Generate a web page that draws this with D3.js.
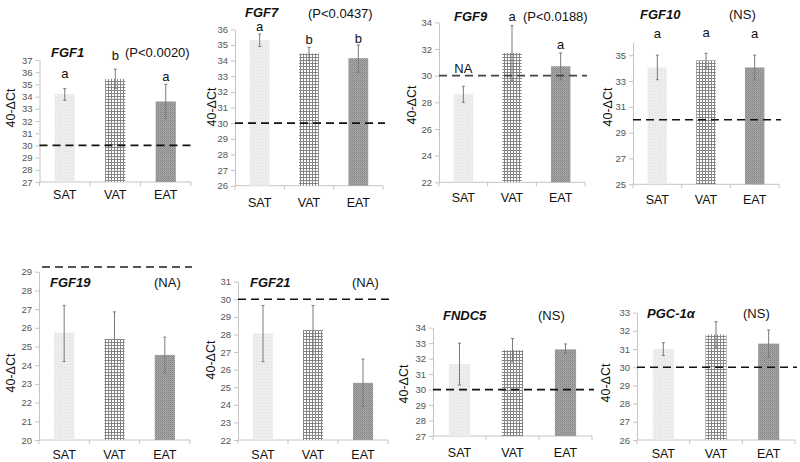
<!DOCTYPE html>
<html><head><meta charset="utf-8">
<script src="https://cdn.jsdelivr.net/npm/d3@7"></script>
<style>body{margin:0;background:#fff}svg{display:block;font-family:"Liberation Sans",Arial,sans-serif}</style>
</head><body><svg id="c" width="800" height="462"></svg>
<script>
// ---------- data ----------
const categories = ["SAT", "VAT", "EAT"];
const genes = ["FGF1", "FGF7", "FGF9", "FGF10", "FGF19", "FGF21", "FNDC5", "PGC-1α"];
const pLabels = ["(P<0.0020)", "(P<0.0437)", "(P<0.0188)", "(NS)", "(NA)", "(NA)", "(NS)", "(NS)"];
const satMeans = [34.2, 35.3, 28.6, 34.05, 25.75, 28.05, 31.65, 31.0];
const vatMeans = [35.45, 34.45, 31.7, 34.6, 25.4, 28.25, 32.55, 31.8];
const eatMeans = [33.6, 34.15, 30.7, 34.05, 24.55, 25.25, 32.6, 31.3];
const satErrLow = [33.7, 34.9, 28.0, 33.1, 24.2, 26.45, 30.3, 30.65];
const satErrHigh = [34.65, 35.7, 29.2, 35.0, 27.2, 29.65, 33.0, 31.35];
const vatErrLow = [34.65, 34.0, 29.65, 34.0, 23.95, 26.85, 31.8, 31.1];
const vatErrHigh = [36.25, 34.85, 33.75, 35.15, 26.85, 29.65, 33.3, 32.5];
const eatErrLow = [32.2, 33.25, 29.7, 33.1, 23.6, 23.9, 32.35, 30.55];
const eatErrHigh = [35.0, 35.0, 31.7, 35.0, 25.5, 26.6, 32.95, 32.05];
const sigLetters = [["a","b","a"], ["a","b","b"], ["","a","a"], ["a","a","a"], ["","",""], ["","",""], ["","",""], ["","",""]];
const yMin = [27, 26, 22, 25, 20, 22, 27, 26];
const yMax = [37, 36, 34, 36, 29, 31, 34, 33];
const yTickStep = [1, 1, 2, 2, 1, 1, 1, 1];
const thresholds = [30, 30, 30, 30, 29.25, 30, 30, 30];
const yAxisTitle = "40-ΔCt";
const naNote = "NA";

// ---------- layout (pixels) ----------
const layout = [
  {x0:39.5, x1:191, yTop:60, yBot:182, lblY:194, yl:[10,108], t:[51,52], p:[125,52], let:[73,55,76], dash:"#111"},
  {x0:235, x1:383, yTop:29.3, yBot:185.7, lblY:202, yl:[211,107], t:[245,12], p:[308,13], let:[26,39,38], dash:"#111"},
  {x0:439, x1:585, yTop:22.3, yBot:182.3, lblY:197, yl:[411,105], t:[454,16], p:[523,16], let:[0,16,44], dash:"#444"},
  {x0:633, x1:779, yTop:null, yBot:184.3, y35:42.3, lblY:199, yl:[607,107], t:[640,14], p:[729,14], let:[33,32,33], dash:"#111"},
  {x0:39, x1:190, yTop:271.7, yBot:440, lblY:454, yl:[10,373], t:[50,282], p:[154,282], let:[], dash:"#555"},
  {x0:238, x1:388, yTop:281.7, yBot:440, lblY:454, yl:[210,360], t:[250,282], p:[352,282], let:[], dash:"#111"},
  {x0:433, x1:592, yTop:327.7, yBot:436, lblY:452, yl:[403,384], t:[443,315], p:[538,315], let:[], dash:"#111"},
  {x0:637, x1:795, yTop:312.7, yBot:440, lblY:453, yl:[605,383], t:[647,313], p:[743,313], let:[], dash:"#111"}
];

const svg = d3.select("#c");
const defs = svg.append("defs");
// SAT pattern
const pS = defs.append("pattern").attr("id","pSAT").attr("patternUnits","userSpaceOnUse").attr("width",3).attr("height",3);
pS.append("rect").attr("width",3).attr("height",3).attr("fill","#ededed");
pS.append("rect").attr("x",1).attr("y",1).attr("width",1).attr("height",1).attr("fill","#e0e0e0");
// VAT grid pattern
const pV = defs.append("pattern").attr("id","pVAT").attr("patternUnits","userSpaceOnUse").attr("width",3).attr("height",3);
pV.append("rect").attr("width",3).attr("height",3).attr("fill","#ffffff");
pV.append("rect").attr("width",3).attr("height",1).attr("fill","#858585");
pV.append("rect").attr("width",1).attr("height",3).attr("fill","#858585");
// EAT dotted pattern
const pE = defs.append("pattern").attr("id","pEAT").attr("patternUnits","userSpaceOnUse").attr("width",2).attr("height",2);
pE.append("rect").attr("width",2).attr("height",2).attr("fill","#a6a6a6");
pE.append("rect").attr("width",1).attr("height",1).attr("fill","#848484");
pE.append("rect").attr("x",1).attr("y",1).attr("width",1).attr("height",1).attr("fill","#959595");
const fills = ["url(#pSAT)","url(#pVAT)","url(#pEAT)"];

genes.forEach((gene, i) => {
  const L = layout[i];
  const g = svg.append("g");
  let y;
  if (L.yTop === null) {
    y = d3.scaleLinear().domain([yMin[i], 35]).range([L.yBot, L.y35]);
    y.domain([yMin[i], yMax[i]]).range([L.yBot, y(yMax[i])]);
  } else {
    y = d3.scaleLinear().domain([yMin[i], yMax[i]]).range([L.yBot, L.yTop]);
  }
  const x = d3.scaleBand().domain(categories).range([L.x0, L.x1]).paddingInner(0.6).paddingOuter(0.3);

  const ticks = d3.range(yMin[i], yMax[i] + 0.001, yTickStep[i]).filter(v => v <= yMax[i] - (i===3?1:0) + 0.001);
  const ya = g.append("g").attr("transform", `translate(${L.x0},0)`)
    .call(d3.axisLeft(y).tickValues(ticks).tickSize(4).tickSizeOuter(0).tickPadding(3).tickFormat(d3.format("d")));
  ya.select(".domain").attr("stroke","#c4c4c4");
  ya.selectAll(".tick line").attr("stroke","#c4c4c4");
  ya.selectAll(".tick text").attr("fill","#555").style("font-size","9.5px");

  g.append("line").attr("x1",L.x0).attr("x2",L.x1).attr("y1",L.yBot).attr("y2",L.yBot).attr("stroke","#c4c4c4");
  const step = x.step();
  const bounds = [L.x0, L.x0 + step, L.x0 + 2*step, L.x1];
  g.selectAll(".xt").data(bounds).join("line")
    .attr("x1",d=>d).attr("x2",d=>d).attr("y1",L.yBot).attr("y2",L.yBot+4).attr("stroke","#c4c4c4");

  const means = [satMeans[i], vatMeans[i], eatMeans[i]];
  const lo = [satErrLow[i], vatErrLow[i], eatErrLow[i]];
  const hi = [satErrHigh[i], vatErrHigh[i], eatErrHigh[i]];
  const rows = categories.map((c, k) => ({c, k, m: means[k], lo: lo[k], hi: hi[k]}));

  g.selectAll(".bar").data(rows).join("rect")
    .attr("x", d => x(d.c)).attr("width", x.bandwidth())
    .attr("y", d => y(d.m)).attr("height", d => L.yBot - y(d.m))
    .attr("fill", d => fills[d.k]);

  const eb = g.selectAll(".eb").data(rows).join("g");
  eb.append("line").attr("x1", d => x(d.c) + x.bandwidth()/2).attr("x2", d => x(d.c) + x.bandwidth()/2)
    .attr("y1", d => y(d.lo)).attr("y2", d => y(d.hi)).attr("stroke","#7a7a7a").attr("stroke-width",1);
  ["lo","hi"].forEach(key => {
    eb.append("line").attr("x1", d => x(d.c) + x.bandwidth()/2 - 1.5).attr("x2", d => x(d.c) + x.bandwidth()/2 + 1.5)
      .attr("y1", d => y(d[key])).attr("y2", d => y(d[key])).attr("stroke","#7a7a7a").attr("stroke-width",1);
  });

  g.append("line").attr("x1", L.x0 + (i===4?3:0)).attr("x2", L.x1 + 2)
    .attr("y1", y(thresholds[i])).attr("y2", y(thresholds[i]))
    .attr("stroke", L.dash).attr("stroke-width", i===4?2:1.6).attr("stroke-dasharray","8,5");

  g.selectAll(".cl").data(categories).join("text")
    .attr("x", d => x(d) + x.bandwidth()/2).attr("y", L.lblY).attr("dy","0.36em")
    .attr("text-anchor","middle").style("font-size","12.5px").attr("fill","#111").text(d => d);

  g.append("text").attr("transform", `translate(${L.yl[0]},${L.yl[1]}) rotate(-90)`)
    .attr("text-anchor","middle").attr("dy","0.36em").style("font-size","12.5px").attr("fill","#111").text(yAxisTitle);

  g.append("text").attr("x", L.t[0]).attr("y", L.t[1]).attr("dy","0.36em")
    .style("font-size","13px").style("font-weight","bold").style("font-style","italic").attr("fill","#111").text(gene);
  g.append("text").attr("x", L.p[0]).attr("y", L.p[1]).attr("dy","0.36em")
    .style("font-size","13px").attr("fill","#111").text(pLabels[i]);

  sigLetters[i].forEach((s, k) => {
    if (!s) return;
    g.append("text").attr("x", x(categories[k]) + x.bandwidth()/2).attr("y", L.let[k]).attr("dy","0.36em")
      .attr("text-anchor","middle").style("font-size","13px").attr("fill","#111").text(s);
  });

  if (i === 2) {
    g.append("text").attr("x", x("SAT") + x.bandwidth()/2).attr("y", 68).attr("dy","0.36em")
      .attr("text-anchor","middle").style("font-size","13px").attr("fill","#111").text(naNote);
  }
});
</script></body></html>
